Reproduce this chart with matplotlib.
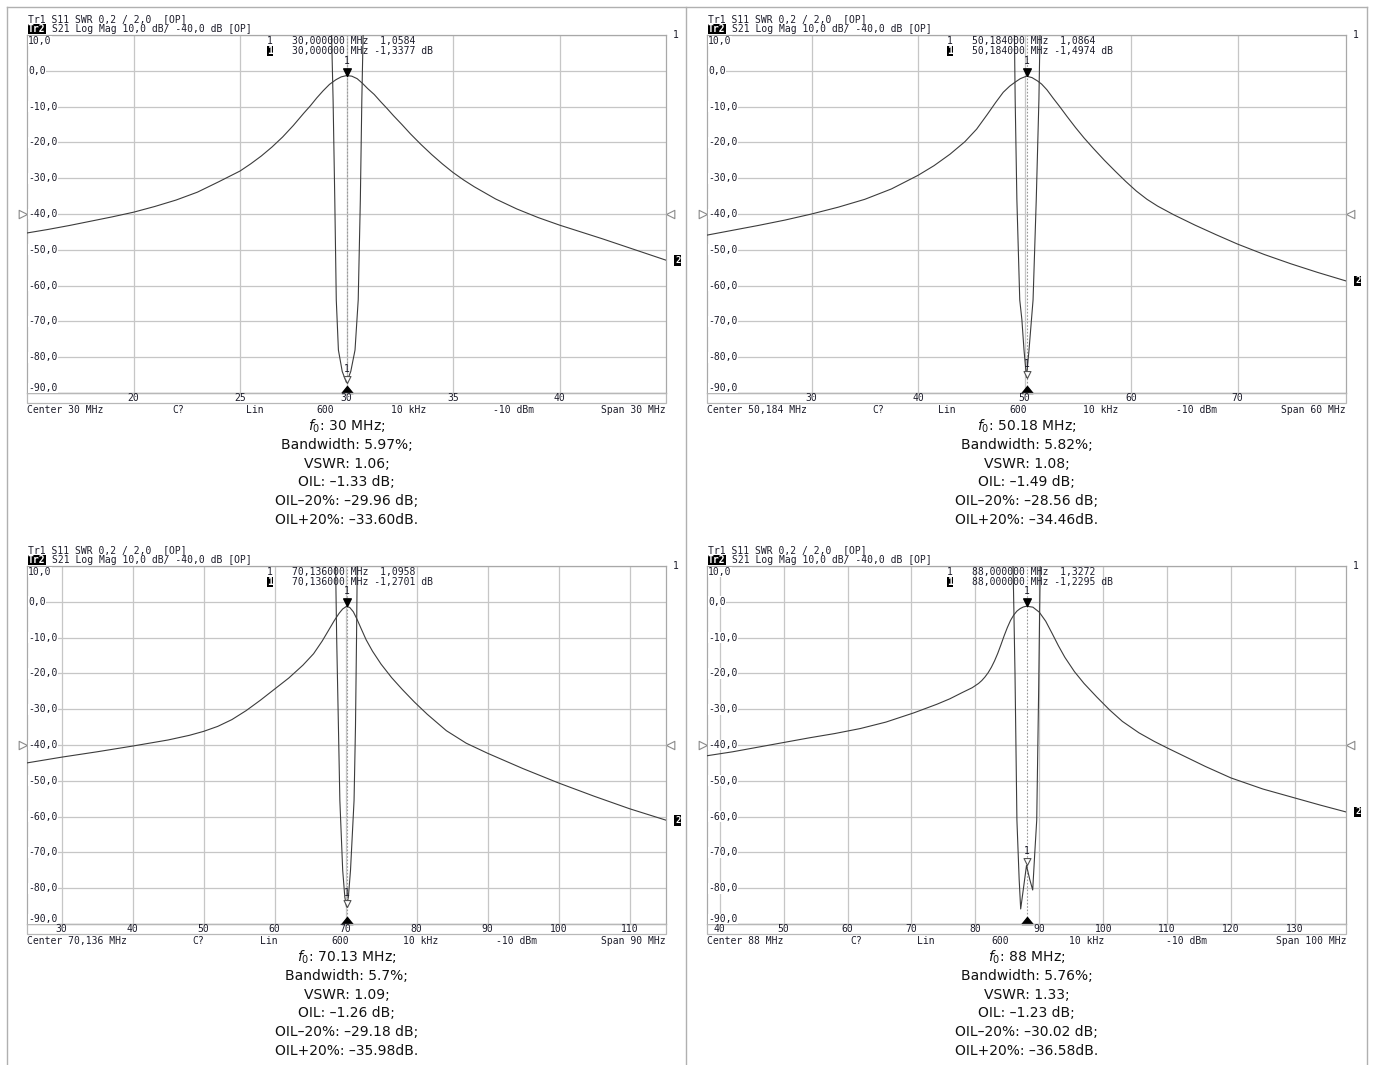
import matplotlib

matplotlib.use("Agg")
import matplotlib.pyplot as plt
from matplotlib.lines import Line2D
from matplotlib.patches import Rectangle
from matplotlib.path import Path

W, H = 1373, 1065

# ---- panel 1: 30 MHz ----
p1_center_mhz, p1_span_mhz = 30.0, 30.0
p1_ticks = [20, 25, 30, 35, 40]
p1_s21_freq = [15.0, 16.0, 17.0, 18.0, 19.0, 20.0, 21.0, 22.0, 23.0, 24.0, 25.0, 25.5, 26.0,
               26.5, 27.0, 27.5, 28.0, 28.3, 28.6, 28.9, 29.2, 29.5, 29.75, 30.0, 30.25, 30.5,
               30.75, 31.0, 31.3, 31.6, 31.9, 32.2, 32.6, 33.0, 33.5, 34.0, 34.5, 35.0, 35.5,
               36.0, 37.0, 38.0, 39.0, 40.0, 41.0, 42.0, 43.0, 44.0, 45.0]
p1_s21_db = [-45.3, -44.3, -43.2, -42.0, -40.8, -39.5, -37.9, -36.1, -33.9, -31.0, -28.0, -26.0,
             -23.8, -21.3, -18.5, -15.3, -11.8, -9.8, -7.6, -5.6, -3.8, -2.5, -1.7, -1.34, -1.5,
             -2.2, -3.5, -5.0, -6.6, -8.6, -10.5, -12.5, -15.0, -17.6, -20.6, -23.4, -26.0,
             -28.4, -30.5, -32.4, -35.8, -38.6, -41.0, -43.1, -45.0, -46.9, -48.9, -50.9, -52.9]
p1_swr_freq = [29.25, 29.3, 29.37, 29.45, 29.52, 29.62, 29.8, 30.0, 30.2, 30.4, 30.55,
               30.65, 30.72, 30.78, 30.83]
p1_swr = [3.4, 3.0, 2.64, 2.08, 1.52, 1.24, 1.12, 1.058, 1.12, 1.24, 1.52, 2.08, 2.64, 3.0, 3.4]
p1_marker = (30.0, 1.0584, -1.3377)
p1_caption = ["$f_0$: 30 MHz;", "Bandwidth: 5.97%;", "VSWR: 1.06;", "OIL: –1.33 dB;",
              "OIL–20%: –29.96 dB;", "OIL+20%: –33.60dB."]

# ---- panel 2: 50 MHz ----
p2_center_mhz, p2_span_mhz = 50.184, 60.0
p2_ticks = [30, 40, 50, 60, 70]
p2_s21_freq = [20.184, 22.5, 25.0, 27.5, 30.0, 32.5, 35.0, 37.5, 40.0, 41.5, 43.0, 44.4, 45.5,
               46.5, 47.3, 48.0, 48.6, 49.1, 49.6, 50.184, 50.7, 51.2, 51.6, 52.1, 52.7, 53.3,
               54.0, 54.8, 55.6, 56.5, 57.5, 58.5, 59.5, 60.5, 61.5, 62.5, 64.0, 66.0, 68.0,
               70.0, 72.5, 75.0, 77.5, 80.184]
p2_s21_db = [-45.9, -44.6, -43.2, -41.7, -40.0, -38.1, -35.9, -33.0, -29.2, -26.5, -23.3, -19.8,
             -16.3, -12.2, -8.8, -6.0, -4.3, -3.2, -2.2, -1.5, -1.9, -2.8, -3.7, -5.3, -7.7,
             -10.0, -12.8, -15.9, -18.8, -21.8, -25.0, -28.0, -30.9, -33.6, -35.9, -37.8,
             -40.2, -43.1, -45.8, -48.4, -51.3, -53.9, -56.3, -58.7]
p2_swr_freq = [48.95, 49.05, 49.12, 49.28, 49.55, 49.75, 49.95, 50.184, 50.42, 50.65, 50.8,
               51.1, 51.35, 51.45, 51.55]
p2_swr = [3.4, 3.0, 2.64, 2.08, 1.52, 1.41, 1.24, 1.0864, 1.24, 1.41, 1.52, 2.08, 2.64, 3.0, 3.4]
p2_marker = (50.184, 1.0864, -1.4974)
p2_caption = ["$f_0$: 50.18 MHz;", "Bandwidth: 5.82%;", "VSWR: 1.08;", "OIL: –1.49 dB;",
              "OIL–20%: –28.56 dB;", "OIL+20%: –34.46dB."]

# ---- panel 3: 70 MHz ----
p3_center_mhz, p3_span_mhz = 70.136, 90.0
p3_ticks = [30, 40, 50, 60, 70, 80, 90, 100, 110]
p3_s21_freq = [25.136, 30.0, 35.0, 40.0, 45.0, 48.0, 50.0, 52.0, 54.0, 56.0, 58.0, 60.0, 62.0,
               64.0, 65.5, 66.7, 67.6, 68.4, 69.1, 69.6, 70.136, 70.6, 71.1, 71.6, 72.2, 72.9,
               73.8, 75.0, 76.5, 78.0, 79.7, 81.5, 84.2, 87.0, 90.0, 95.0, 100.0, 105.0,
               110.0, 115.136]
p3_s21_db = [-45.0, -43.4, -41.9, -40.3, -38.6, -37.3, -36.2, -34.8, -32.9, -30.4, -27.5,
             -24.4, -21.3, -17.7, -14.5, -11.0, -8.0, -5.3, -3.2, -2.0, -1.27, -1.6, -2.8,
             -4.8, -7.5, -10.6, -13.8, -17.4, -21.2, -24.5, -28.0, -31.4, -36.0, -39.5, -42.3,
             -46.6, -50.6, -54.3, -57.8, -61.0]
p3_swr_freq = [68.45, 68.6, 68.75, 69.0, 69.2, 69.6, 69.9, 70.136, 70.4, 70.7, 71.2, 71.4,
               71.55, 71.65, 71.8]
p3_swr = [3.4, 3.0, 2.6, 2.1, 1.69, 1.30, 1.15, 1.0958, 1.15, 1.30, 1.69, 2.1, 2.6, 3.0, 3.4]
p3_marker = (70.136, 1.0958, -1.2701)
p3_caption = ["$f_0$: 70.13 MHz;", "Bandwidth: 5.7%;", "VSWR: 1.09;", "OIL: –1.26 dB;",
              "OIL–20%: –29.18 dB;", "OIL+20%: –35.98dB."]

# ---- panel 4: 88 MHz ----
p4_center_mhz, p4_span_mhz = 88.0, 100.0
p4_ticks = [40, 50, 60, 70, 80, 90, 100, 110, 120, 130]
p4_s21_freq = [38.0, 42.0, 46.0, 50.0, 54.0, 58.0, 62.0, 66.0, 70.4, 74.0, 76.0, 78.0, 79.5,
               80.5, 81.0, 81.5, 82.0, 82.5, 83.0, 83.5, 84.0, 84.5, 85.0, 85.5, 86.0, 86.5,
               87.0, 87.5, 88.0, 89.0, 90.0, 91.0, 92.0, 93.0, 94.0, 95.5, 97.0, 99.0, 101.0,
               103.0, 105.6, 108.0, 110.0, 113.0, 116.0, 120.0, 125.0, 130.0, 134.0, 138.0]
p4_s21_db = [-43.0, -41.9, -40.6, -39.3, -38.0, -36.8, -35.4, -33.6, -31.0, -28.6, -27.1,
             -25.3, -24.0, -22.8, -22.0, -21.0, -19.8, -18.3, -16.5, -14.4, -12.0, -9.5, -7.2,
             -5.2, -3.7, -2.6, -1.9, -1.45, -1.23, -1.5, -2.9, -5.4, -8.8, -12.3, -15.5,
             -19.5, -22.8, -26.6, -30.2, -33.4, -36.6, -39.0, -40.8, -43.4, -46.0, -49.2,
             -52.3, -54.8, -56.8, -58.7]
p4_swr_freq = [85.75, 85.9, 86.2, 86.5, 86.85, 87.09, 87.6, 88.0, 88.5, 88.97, 89.3, 89.6,
               89.9, 90.15, 90.3]
p4_swr = [3.4, 3.0, 2.4, 1.58, 1.25, 1.084, 1.22, 1.327, 1.25, 1.19, 1.4, 1.58, 2.3, 3.0, 3.4]
p4_marker = (88.0, 1.3272, -1.2295)
p4_caption = ["$f_0$: 88 MHz;", "Bandwidth: 5.76%;", "VSWR: 1.33;", "OIL: –1.23 dB;",
              "OIL–20%: –30.02 dB;", "OIL+20%: –36.58dB."]

footer_labels = ["C?", "Lin", "600", "10 kHz", "-10 dBm"]

PANELS = [
    dict(center=p1_center_mhz, span=p1_span_mhz, ticks=p1_ticks, fs=p1_s21_freq, db=p1_s21_db,
         fw=p1_swr_freq, swr=p1_swr, marker=p1_marker, caption=p1_caption,
         box=(27, 35, 666, 393), foot=[145, 219, 289, 364, 466]),
    dict(center=p2_center_mhz, span=p2_span_mhz, ticks=p2_ticks, fs=p2_s21_freq, db=p2_s21_db,
         fw=p2_swr_freq, swr=p2_swr, marker=p2_marker, caption=p2_caption,
         box=(707, 35, 1346, 393), foot=[165, 231, 302, 376, 469]),
    dict(center=p3_center_mhz, span=p3_span_mhz, ticks=p3_ticks, fs=p3_s21_freq, db=p3_s21_db,
         fw=p3_swr_freq, swr=p3_swr, marker=p3_marker, caption=p3_caption,
         box=(27, 566, 666, 924), foot=[165, 233, 304, 376, 469]),
    dict(center=p4_center_mhz, span=p4_span_mhz, ticks=p4_ticks, fs=p4_s21_freq, db=p4_s21_db,
         fw=p4_swr_freq, swr=p4_swr, marker=p4_marker, caption=p4_caption,
         box=(707, 566, 1346, 924), foot=[143, 210, 284, 362, 459]),
]

plt.rcParams["mathtext.fontset"] = "dejavusans"
MONO = "DejaVu Sans Mono"
TXT = "#1c1c2a"
TRACE = "#3c3c3c"
GRID = "#c6c6c6"

fig = plt.figure(figsize=(W / 100, H / 100), dpi=100)


def fx(x):
    return x / W


def fy(y):
    return 1 - y / H


def comma(v, nd):
    return f"{v:.{nd}f}".replace(".", ",")


def mhz_str(v):
    s = f"{v:.3f}".rstrip("0").rstrip(".")
    return s.replace(".", ",")


TRI_DOWN = Path([(0, 0), (-0.5, 1), (0.5, 1), (0, 0)])
TRI_UP = Path([(-0.65, 0), (0.65, 0), (0, 0.8), (-0.65, 0)])
TRI_RIGHT = Path([(0, 0), (-1, 0.5), (-1, -0.5), (0, 0)])
TRI_LEFT = Path([(0, 0), (1, 0.5), (1, -0.5), (0, 0)])

# frame lines of the screenshot collage
for xs, ys in [((7, 7), (7, 1065)), ((686, 686), (7, 1065)), ((1367, 1367), (7, 1065)),
               ((7, 1367), (7, 7))]:
    fig.add_artist(Line2D([fx(xs[0]), fx(xs[1])], [fy(ys[0]), fy(ys[1])],
                          color="#b0b0b0", lw=1.0))

for p in PANELS:
    x0, y0, x1, y1 = p["box"]
    xmin = p["center"] - p["span"] / 2
    xmax = p["center"] + p["span"] / 2
    ax = fig.add_axes([fx(x0), fy(y1), (x1 - x0) / W, (y1 - y0) / H])
    ax.set_xlim(xmin, xmax)
    ax.set_ylim(-90, 10)
    ax.set_yticks(range(-90, 11, 10))
    ax.set_xticks(p["ticks"])
    ax.tick_params(length=0, labelleft=False, labelbottom=False)
    ax.grid(True, color=GRID, lw=0.9)
    ax.set_axisbelow(True)
    for s in ax.spines.values():
        s.set_color("#a8a8a8")
        s.set_linewidth(0.9)

    ax2 = ax.twinx()
    ax2.set_ylim(1.0, 3.0)
    ax2.set_yticks([])
    for s in ax2.spines.values():
        s.set_visible(False)

    fm, swr_m, db_m = p["marker"]
    ax.axvline(fm, color="#9a9a9a", lw=0.8, ls=(0, (1.5, 1.5)), zorder=1)

    ax.plot(p["fs"], p["db"], color=TRACE, lw=0.8, zorder=3)
    ax2.plot(p["fw"], p["swr"], color=TRACE, lw=0.8, zorder=3)

    # markers
    ax.plot([fm], [db_m], marker=TRI_DOWN, ms=11, color="black", ls="none", zorder=5)
    ax.annotate("1", (fm, db_m), xytext=(0, 10), textcoords="offset pixels",
                ha="center", va="bottom", fontsize=7, family=MONO, color=TXT)
    ax2.plot([fm], [swr_m], marker=TRI_DOWN, ms=10, mfc="white", mec="#555555", mew=0.8,
             ls="none", zorder=5)
    ax2.annotate("1", (fm, swr_m), xytext=(0, 9), textcoords="offset pixels",
                 ha="center", va="bottom", fontsize=7, family=MONO, color=TXT)
    ax.plot([fm], [-90], marker=TRI_UP, ms=10, color="black", ls="none", clip_on=False, zorder=6)
    ax.plot([xmin], [-40], marker=TRI_RIGHT, ms=12, mfc="white", mec="#8a8a8a", mew=0.8,
            ls="none", clip_on=False)
    ax.plot([xmax], [-40], marker=TRI_LEFT, ms=12, mfc="white", mec="#8a8a8a", mew=0.8,
            ls="none", clip_on=False)
    ax.annotate("2", (xmax, p["db"][-1]), xytext=(9, 0), textcoords="offset pixels",
                ha="left", va="center", fontsize=6.5, family=MONO, color="white",
                fontweight="bold", annotation_clip=False,
                bbox=dict(boxstyle="square,pad=0.1", fc="black", ec="none"))
    fig.text(fx(x1 + 7), fy(y0), "1", fontsize=7, family=MONO, color=TXT,
             ha="left", va="center")

    # y labels inside the grid
    for v in range(10, -91, -10):
        yy = y0 + (10 - v) / 100 * (y1 - y0)
        if v == 10:
            yy += 6
        elif v == -90:
            yy -= 5
        fig.text(fx(x0 + 1), fy(yy), comma(v, 1), fontsize=7, family=MONO, color=TXT,
                 ha="left", va="center",
                 bbox=dict(boxstyle="square,pad=0.05", fc="white", ec="none"))

    # x tick strip
    fig.add_artist(Rectangle((fx(x0), fy(y1 + 10)), (x1 - x0) / W, 10 / H, fill=False,
                             ec="#b8b8b8", lw=0.9))
    for t in p["ticks"]:
        xx = x0 + (t - xmin) / (xmax - xmin) * (x1 - x0)
        fig.text(fx(xx), fy(y1 + 5), str(t), fontsize=7, family=MONO, color=TXT,
                 ha="center", va="center")

    # header
    fig.text(fx(x0 + 1), fy(y0 - 16), "Tr1 S11 SWR 0,2 / 2,0  [OP]", fontsize=7,
             family=MONO, color=TXT, ha="left", va="center")
    fig.text(fx(x0 + 1), fy(y0 - 6), "Tr2", fontsize=7, family=MONO, color="white",
             fontweight="bold", ha="left", va="center",
             bbox=dict(boxstyle="square,pad=0.05", fc="black", ec="none"))
    fig.text(fx(x0 + 25), fy(y0 - 6), "S21 Log Mag 10,0 dB/ -40,0 dB [OP]", fontsize=7,
             family=MONO, color=TXT, ha="left", va="center")

    # marker readout
    fig.text(fx(x0 + 240), fy(y0 + 6), "1", fontsize=7, family=MONO, color=TXT,
             ha="left", va="center")
    fig.text(fx(x0 + 265), fy(y0 + 6), f"{comma(fm, 6)} MHz  {comma(swr_m, 4)}",
             fontsize=7, family=MONO, color=TXT, ha="left", va="center")
    fig.text(fx(x0 + 240), fy(y0 + 16), "1", fontsize=7, family=MONO, color="white",
             fontweight="bold", ha="left", va="center",
             bbox=dict(boxstyle="square,pad=0.05", fc="black", ec="none"))
    fig.text(fx(x0 + 265), fy(y0 + 16), f"{comma(fm, 6)} MHz {comma(db_m, 4)} dB",
             fontsize=7, family=MONO, color=TXT, ha="left", va="center")

    # footer
    fy_foot = y1 + 17
    fig.text(fx(x0), fy(fy_foot), f"Center {mhz_str(p['center'])} MHz", fontsize=7,
             family=MONO, color=TXT, ha="left", va="center")
    for lab, off in zip(footer_labels, p["foot"]):
        fig.text(fx(x0 + off), fy(fy_foot), lab, fontsize=7, family=MONO, color=TXT,
                 ha="left", va="center")
    fig.text(fx(x1), fy(fy_foot), f"Span {mhz_str(p['span'])} MHz", fontsize=7,
             family=MONO, color=TXT, ha="right", va="center")

    # caption
    cx = (x0 + x1) / 2
    for i, line in enumerate(p["caption"]):
        fig.text(fx(cx), fy(y1 + 33 + i * 18.8), line, fontsize=10, color="#111111",
                 ha="center", va="center")

fig.savefig("out.png", dpi=100)
